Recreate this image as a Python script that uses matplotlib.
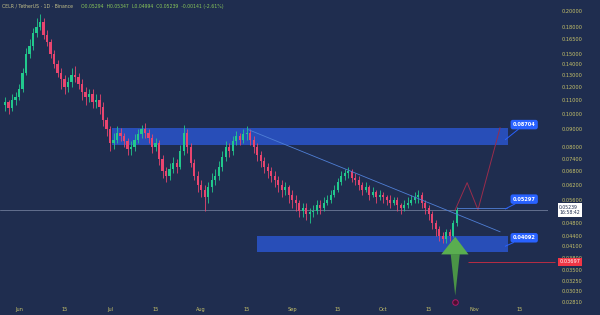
import matplotlib.pyplot as plt
from matplotlib.patches import Polygon, Rectangle
from matplotlib.transforms import blended_transform_factory

# daily candles
opens = [0.106, 0.108, 0.104, 0.110, 0.112, 0.118, 0.132, 0.150, 0.158, 0.172,
         0.180, 0.186, 0.170, 0.162, 0.150, 0.140, 0.132, 0.126, 0.120, 0.124,
         0.130, 0.128, 0.122, 0.116, 0.112, 0.114, 0.108, 0.110, 0.105, 0.096,
         0.090, 0.082, 0.084, 0.088, 0.086, 0.083, 0.079, 0.080, 0.084, 0.087,
         0.090, 0.088, 0.085, 0.080, 0.082, 0.074, 0.068, 0.066, 0.069, 0.072,
         0.070, 0.078, 0.088, 0.080, 0.072, 0.066, 0.062, 0.060, 0.057, 0.061,
         0.064, 0.066, 0.070, 0.075, 0.080, 0.078, 0.083, 0.086, 0.084, 0.087,
         0.088, 0.084, 0.080, 0.076, 0.073, 0.070, 0.068, 0.066, 0.064, 0.062,
         0.060, 0.061, 0.058, 0.056, 0.055, 0.052, 0.053, 0.051, 0.0515, 0.052,
         0.054, 0.053, 0.055, 0.056, 0.058, 0.060, 0.063, 0.066, 0.067, 0.068,
         0.065, 0.064, 0.062, 0.060, 0.061, 0.058, 0.059, 0.057, 0.058, 0.057,
         0.056, 0.055, 0.056, 0.054, 0.053, 0.054, 0.055, 0.056, 0.057, 0.058,
         0.055, 0.053, 0.051, 0.048, 0.046, 0.044, 0.043, 0.045, 0.044, 0.048]
closes = [0.108, 0.104, 0.110, 0.112, 0.118, 0.132, 0.150, 0.158, 0.172, 0.180,
          0.186, 0.170, 0.162, 0.150, 0.140, 0.132, 0.126, 0.120, 0.124, 0.130,
          0.128, 0.122, 0.116, 0.112, 0.114, 0.108, 0.110, 0.105, 0.096, 0.090,
          0.082, 0.084, 0.088, 0.086, 0.083, 0.079, 0.080, 0.084, 0.087, 0.090,
          0.088, 0.085, 0.080, 0.082, 0.074, 0.068, 0.066, 0.069, 0.072, 0.070,
          0.078, 0.088, 0.080, 0.072, 0.066, 0.062, 0.060, 0.057, 0.061, 0.064,
          0.066, 0.070, 0.075, 0.080, 0.078, 0.083, 0.086, 0.084, 0.087, 0.088,
          0.084, 0.080, 0.076, 0.073, 0.070, 0.068, 0.066, 0.064, 0.062, 0.060,
          0.061, 0.058, 0.056, 0.055, 0.052, 0.053, 0.051, 0.0515, 0.052, 0.054,
          0.053, 0.055, 0.056, 0.058, 0.060, 0.063, 0.066, 0.067, 0.068, 0.065,
          0.064, 0.062, 0.060, 0.061, 0.058, 0.059, 0.057, 0.058, 0.057, 0.056,
          0.055, 0.056, 0.054, 0.053, 0.054, 0.055, 0.056, 0.057, 0.058, 0.055,
          0.053, 0.051, 0.048, 0.046, 0.044, 0.043, 0.045, 0.044, 0.048, 0.0524]
highs = [0.112, 0.110, 0.114, 0.116, 0.122, 0.136, 0.156, 0.166, 0.178, 0.190,
         0.196, 0.190, 0.176, 0.166, 0.154, 0.144, 0.136, 0.130, 0.128, 0.136,
         0.138, 0.132, 0.126, 0.120, 0.118, 0.118, 0.114, 0.114, 0.108, 0.098,
         0.092, 0.088, 0.092, 0.091, 0.088, 0.085, 0.083, 0.087, 0.090, 0.093,
         0.094, 0.090, 0.087, 0.085, 0.084, 0.076, 0.070, 0.072, 0.075, 0.074,
         0.081, 0.093, 0.090, 0.082, 0.074, 0.068, 0.064, 0.062, 0.063, 0.067,
         0.069, 0.073, 0.078, 0.083, 0.082, 0.086, 0.089, 0.088, 0.090, 0.092,
         0.090, 0.086, 0.082, 0.078, 0.075, 0.072, 0.070, 0.068, 0.066, 0.064,
         0.063, 0.062, 0.060, 0.058, 0.056, 0.055, 0.055, 0.053, 0.054, 0.056,
         0.056, 0.057, 0.058, 0.060, 0.062, 0.065, 0.068, 0.069, 0.070, 0.069,
         0.067, 0.066, 0.063, 0.063, 0.062, 0.061, 0.060, 0.060, 0.059, 0.058,
         0.058, 0.057, 0.057, 0.055, 0.056, 0.057, 0.058, 0.059, 0.060, 0.059,
         0.056, 0.054, 0.052, 0.049, 0.047, 0.045, 0.046, 0.046, 0.049, 0.0535]
lows = [0.102, 0.100, 0.102, 0.106, 0.110, 0.116, 0.130, 0.146, 0.154, 0.168,
        0.176, 0.166, 0.158, 0.146, 0.136, 0.128, 0.118, 0.114, 0.116, 0.120,
        0.124, 0.118, 0.110, 0.106, 0.108, 0.104, 0.104, 0.100, 0.092, 0.086,
        0.078, 0.079, 0.082, 0.083, 0.080, 0.076, 0.076, 0.078, 0.082, 0.085,
        0.085, 0.082, 0.077, 0.078, 0.071, 0.065, 0.063, 0.064, 0.067, 0.067,
        0.069, 0.076, 0.077, 0.070, 0.064, 0.059, 0.057, 0.052, 0.055, 0.059,
        0.062, 0.064, 0.068, 0.073, 0.075, 0.076, 0.081, 0.081, 0.082, 0.084,
        0.081, 0.077, 0.073, 0.070, 0.067, 0.065, 0.063, 0.061, 0.059, 0.057,
        0.058, 0.055, 0.053, 0.052, 0.050, 0.050, 0.049, 0.048, 0.050, 0.051,
        0.051, 0.052, 0.054, 0.055, 0.057, 0.059, 0.062, 0.064, 0.065, 0.063,
        0.062, 0.060, 0.058, 0.059, 0.056, 0.057, 0.055, 0.056, 0.055, 0.054,
        0.053, 0.054, 0.052, 0.051, 0.052, 0.053, 0.054, 0.055, 0.055, 0.053,
        0.051, 0.049, 0.046, 0.044, 0.0425, 0.0418, 0.042, 0.0425, 0.0435, 0.047]

price_ticks = [0.20, 0.18, 0.165, 0.15, 0.14, 0.13, 0.12, 0.11, 0.10, 0.09,
               0.08, 0.074, 0.068, 0.062, 0.056, 0.048, 0.044, 0.041, 0.038,
               0.035, 0.0325, 0.0303, 0.0281]
date_ticks = [4, 17, 30, 43, 56, 69, 82, 95, 108, 121, 134, 147]
date_labels = ['Jun', '15', 'Jul', '15', 'Aug', '15', 'Sep', '15', 'Oct', '15', 'Nov', '15']

# drawn zones / levels
upper_zone = (0.0812, 0.0910)
lower_zone = (0.0395, 0.0440)
trend_x = [69.6, 141.4]
trend_y = [0.0898, 0.0452]
path_x = [128.6, 132.0, 135.1, 141.4]
path_y = [0.0524, 0.0629, 0.0524, 0.0910]
last_price = 0.05239
red_level = 0.03697

bg = '#1f2d4f'
up_c = '#22c98d'
dn_c = '#e8456f'
txt_c = '#c9c46a'
lbl_blue = '#2962ff'

fig = plt.figure(figsize=(6, 3.15), dpi=100, facecolor=bg)
ax = fig.add_axes([0, 10 / 315, 548 / 600, 1 - 10 / 315])
ax.set_facecolor(bg)
ax.set_yscale('log')
ax.set_ylim(0.0276, 0.2152)
ax.set_xlim(-1.43, 155.1)

idx = list(range(len(closes)))
cols = [up_c if c >= o else dn_c for o, c in zip(opens, closes)]
ax.vlines(idx, lows, highs, colors=cols, linewidth=0.6, zorder=3)
ax.bar(idx, [c - o for o, c in zip(opens, closes)], bottom=opens, width=0.6,
       color=cols, linewidth=0, zorder=4)

# zones
ax.add_patch(Rectangle((30.6, upper_zone[0]), 113.1, upper_zone[1] - upper_zone[0],
                       facecolor='#2a52c4', edgecolor='none', alpha=0.9, zorder=2))
ax.add_patch(Rectangle((72.0, lower_zone[0]), 71.7, lower_zone[1] - lower_zone[0],
                       facecolor='#2a52c4', edgecolor='none', alpha=0.9, zorder=2))

# trendline and projected path
ax.plot(trend_x, trend_y, color='#4f7fd6', lw=0.6, zorder=5)
ax.plot(path_x, path_y, color='#9a2c4c', lw=0.7, zorder=5)
ax.axhline(last_price, color='#7d8aa8', lw=0.5, zorder=1)
ax.hlines(0.05297, 129, 143.5, color='#4f7fd6', lw=0.6, zorder=5)
ax.hlines(red_level, 132.3, 157, color='#b82c44', lw=0.7, zorder=5, clip_on=False)

# green arrow pointing up into the zone
head = Polygon([(124.6, 0.0388), (132.4, 0.0388), (128.6, 0.0437)],
               closed=True, facecolor='#5aae50', edgecolor='none', zorder=6)
shaft = Polygon([(127.3, 0.0389), (129.9, 0.0389), (128.6, 0.0294)],
                closed=True, facecolor='#4a9446', edgecolor='none', zorder=6)
ax.add_patch(head)
ax.add_patch(shaft)
ax.scatter([128.6], [0.0282], s=16, facecolor='#4a1030', edgecolor='#b01a6a',
           linewidth=0.7, zorder=7)

# level labels
for txt, ty, py in [('0.08704', 0.0930, 0.0840), ('0.05297', 0.0563, 0.0527),
                    ('0.04092', 0.0434, 0.0410)]:
    ax.annotate(txt, xy=(142.9, py), xytext=(148.3, ty), color='white',
                fontsize=3.6, fontweight='bold', ha='center', va='center',
                bbox=dict(boxstyle='round,pad=0.45', fc=lbl_blue, ec='none'),
                arrowprops=dict(arrowstyle='-', color=lbl_blue, lw=0.7,
                                shrinkA=0, shrinkB=0), zorder=8)

# price axis on the right
ax.yaxis.tick_right()
ax.set_yticks(price_ticks)
ax.set_yticklabels(['%.5f' % p for p in price_ticks])
ax.yaxis.set_minor_locator(plt.NullLocator())
ax.tick_params(axis='y', length=0, pad=10, labelsize=3.6, labelcolor=txt_c)
ax.set_xticks(date_ticks)
ax.set_xticklabels(date_labels)
ax.tick_params(axis='x', length=0, pad=1.5, labelsize=3.6, labelcolor=txt_c)
for s in ax.spines.values():
    s.set_visible(False)

tr = blended_transform_factory(fig.transFigure, ax.transData)
ax.text(0.932, last_price, '0.05239\n16:58:42', transform=tr, fontsize=3.3,
        color='#1f2d4f', ha='left', va='center', linespacing=1.1,
        bbox=dict(boxstyle='square,pad=0.35', fc='white', ec='none'), zorder=9)
ax.text(0.932, red_level, '0.03697', transform=tr, fontsize=3.6, color='white',
        ha='left', va='center',
        bbox=dict(boxstyle='square,pad=0.3', fc='#f23645', ec='none'), zorder=9)

fig.text(0.004, 0.988, 'CELR / TetherUS · 1D · Binance', fontsize=3.3,
         color='#c4c08a', ha='left', va='top')
fig.text(0.135, 0.988, 'O0.05294  H0.05347  L0.04994  C0.05239  -0.00141 (-2.61%)',
         fontsize=3.3, color='#8ac85a', ha='left', va='top')

fig.savefig('out.png', dpi=100, facecolor=bg)
